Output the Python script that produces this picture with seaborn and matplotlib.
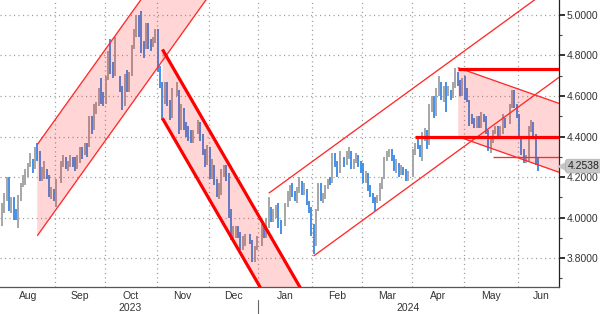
import numpy as np
import pandas as pd
import matplotlib
matplotlib.use("Agg")
import matplotlib.pyplot as plt
import matplotlib.transforms as mtransforms
import seaborn as sns

# ---------------- data (daily yield bars, weekdays; None = market holiday) ----------------
start_date = "2023-08-01"
end_date = "2024-06-13"

close = [
    4.05, 4.08, 4.18, 4.03, 4.09, 4.02, 4.01, 4.08, 4.16, 4.19, 4.21, 4.26, 4.30, 4.25, 4.34, 4.33, 4.19, 4.24, 4.24, 4.21, 4.12, 4.12, 4.09,
    4.18, None, 4.27, 4.30, 4.26, 4.26, 4.29, 4.27, 4.25, 4.29, 4.33, 4.32, 4.36, 4.35, 4.49, 4.43, 4.54, 4.56, 4.61, 4.59, 4.57,
    4.68, 4.80, 4.73, 4.72, 4.78, None, 4.65, 4.56, 4.70, 4.63, 4.71, 4.83, 4.90, 4.99, 4.91, 4.84, 4.83, 4.95, 4.85, 4.84, 4.88, 4.93,
    4.77, 4.67, 4.57, 4.64, 4.57, 4.49, 4.63, None, 4.63, 4.44, 4.54, 4.45, 4.44, 4.42, 4.41, 4.41, None, 4.47, 4.39, 4.33, 4.26, 4.35,
    4.22, 4.26, 4.17, 4.11, 4.13, 4.23, 4.24, 4.20, 4.02, 3.91, 3.91, 3.95, 3.92, 3.85, 3.89, 3.90, None, 3.89, 3.79, 3.85, 3.88,
    None, 3.94, 3.91, 3.99, 4.05, 4.01, 4.02, 4.03, 3.97, 3.94, None, 4.06, 4.10, 4.14, 4.12, 4.10, 4.14, 4.18, 4.12, 4.14, 4.08, 4.03, 3.92,
    3.87, 4.03, 4.16, 4.09, 4.10, 4.15, 4.18, 4.17, 4.31, 4.26, 4.24, 4.30, None, 4.27, 4.32, 4.32, 4.25, 4.28, 4.31, 4.27, 4.25,
    4.18, 4.22, 4.15, 4.11, 4.09, 4.08, 4.10, 4.15, 4.19, 4.29, 4.31, 4.33, 4.30, 4.27, 4.27, 4.22, 4.25, 4.23, 4.19, 4.20, None,
    4.33, 4.36, 4.35, 4.31, 4.40, 4.42, 4.36, 4.55, 4.59, 4.52, 4.63, 4.67, 4.59, 4.64, 4.62, 4.62, 4.60, 4.65, 4.71, 4.67, 4.61, 4.68,
    4.63, 4.58, 4.50, 4.49, 4.46, 4.49, 4.46, 4.50, 4.49, 4.45, 4.35, 4.38, 4.42, 4.44, 4.41, 4.43, 4.48, 4.47, None, 4.54, 4.62, 4.55, 4.50,
    4.40, 4.33, 4.29, 4.29, 4.43, 4.47, 4.40, 4.31, 4.2538,
]
high = [
    4.07, 4.12, 4.20, 4.20, 4.10, 4.10, 4.04, 4.11, 4.17, 4.21, 4.24, 4.27, 4.32, 4.29, 4.35, 4.37, 4.33, 4.25, 4.28, 4.24, 4.21, 4.15, 4.14,
    4.19, None, 4.28, 4.31, 4.30, 4.28, 4.31, 4.30, 4.30, 4.31, 4.35, 4.35, 4.37, 4.37, 4.50, 4.50, 4.56, 4.57, 4.64, 4.69, 4.62,
    4.70, 4.82, 4.88, 4.77, 4.89, None, 4.70, 4.65, 4.71, 4.73, 4.72, 4.85, 4.93, 5.00, 5.00, 5.02, 4.87, 4.96, 4.96, 4.88, 4.89, 4.93,
    4.93, 4.75, 4.67, 4.67, 4.67, 4.58, 4.64, None, 4.67, 4.63, 4.56, 4.54, 4.47, 4.45, 4.43, 4.43, None, 4.48, 4.47, 4.41, 4.34, 4.36,
    4.35, 4.29, 4.26, 4.19, 4.17, 4.24, 4.26, 4.26, 4.22, 4.04, 3.96, 3.96, 3.96, 3.93, 3.91, 3.92, None, 3.92, 3.89, 3.86, 3.91,
    None, 3.97, 3.96, 4.00, 4.10, 4.05, 4.04, 4.06, 4.07, 3.99, None, 4.07, 4.13, 4.16, 4.17, 4.13, 4.15, 4.20, 4.18, 4.17, 4.14, 4.08, 4.05,
    3.97, 4.04, 4.17, 4.17, 4.12, 4.16, 4.19, 4.20, 4.32, 4.32, 4.28, 4.33, None, 4.30, 4.33, 4.35, 4.33, 4.29, 4.32, 4.31, 4.28,
    4.27, 4.23, 4.22, 4.16, 4.12, 4.10, 4.11, 4.17, 4.20, 4.30, 4.33, 4.34, 4.34, 4.31, 4.29, 4.27, 4.26, 4.25, 4.24, 4.23, None,
    4.34, 4.37, 4.39, 4.36, 4.42, 4.44, 4.43, 4.56, 4.60, 4.60, 4.64, 4.70, 4.67, 4.65, 4.67, 4.65, 4.63, 4.67, 4.74, 4.72, 4.68, 4.69,
    4.70, 4.64, 4.58, 4.51, 4.49, 4.50, 4.50, 4.52, 4.51, 4.50, 4.43, 4.39, 4.43, 4.45, 4.45, 4.45, 4.51, 4.49, None, 4.56, 4.63, 4.63, 4.56,
    4.51, 4.40, 4.34, 4.31, 4.45, 4.48, 4.47, 4.41, 4.30,
]
low = [
    3.96, 4.02, 4.08, 4.03, 4.02, 3.99, 3.99, 3.95, 4.08, 4.15, 4.16, 4.20, 4.25, 4.22, 4.24, 4.28, 4.18, 4.18, 4.19, 4.19, 4.10, 4.09, 4.08,
    4.05, None, 4.17, 4.25, 4.24, 4.23, 4.25, 4.25, 4.23, 4.24, 4.27, 4.29, 4.31, 4.30, 4.35, 4.41, 4.43, 4.51, 4.55, 4.56, 4.55,
    4.56, 4.68, 4.71, 4.69, 4.70, None, 4.62, 4.53, 4.55, 4.62, 4.62, 4.70, 4.83, 4.89, 4.89, 4.81, 4.79, 4.83, 4.83, 4.82, 4.84, 4.86,
    4.72, 4.64, 4.48, 4.56, 4.55, 4.48, 4.49, None, 4.60, 4.41, 4.43, 4.43, 4.40, 4.38, 4.37, 4.37, None, 4.41, 4.38, 4.31, 4.25, 4.26,
    4.19, 4.19, 4.16, 4.10, 4.09, 4.11, 4.20, 4.18, 4.00, 3.89, 3.88, 3.90, 3.90, 3.84, 3.84, 3.86, None, 3.87, 3.78, 3.78, 3.84,
    None, 3.86, 3.90, 3.90, 3.95, 3.98, 3.98, 4.00, 3.95, 3.92, None, 3.96, 4.05, 4.08, 4.10, 4.08, 4.07, 4.12, 4.11, 4.11, 4.06, 4.02, 3.91,
    3.82, 3.86, 4.03, 4.08, 4.07, 4.09, 4.14, 4.16, 4.17, 4.25, 4.20, 4.22, None, 4.25, 4.26, 4.29, 4.24, 4.24, 4.27, 4.25, 4.22,
    4.17, 4.17, 4.13, 4.10, 4.07, 4.03, 4.07, 4.08, 4.14, 4.19, 4.28, 4.30, 4.28, 4.23, 4.22, 4.20, 4.21, 4.21, 4.18, 4.18, None,
    4.20, 4.31, 4.34, 4.30, 4.28, 4.38, 4.34, 4.36, 4.52, 4.49, 4.50, 4.60, 4.58, 4.57, 4.52, 4.60, 4.58, 4.59, 4.64, 4.65, 4.60, 4.60,
    4.58, 4.57, 4.45, 4.46, 4.44, 4.44, 4.44, 4.44, 4.47, 4.41, 4.33, 4.32, 4.37, 4.41, 4.39, 4.40, 4.41, 4.44, None, 4.46, 4.54, 4.54, 4.49,
    4.40, 4.31, 4.27, 4.27, 4.28, 4.42, 4.39, 4.26, 4.23,
]

month_names = ["Aug", "Sep", "Oct", "Nov", "Dec", "Jan", "Feb", "Mar", "Apr", "May", "Jun"]
month_starts = ["2023-08-01", "2023-09-01", "2023-10-01", "2023-11-01", "2023-12-01",
                "2024-01-01", "2024-02-01", "2024-03-01", "2024-04-01", "2024-05-01", "2024-06-01"]
year_labels = ["2023", "2024"]

# trend channels: (dates, upper values, lower values)
rise1_dates, rise1_upper, rise1_lower = ["2023-08-22", "2023-12-01"], [4.36, 5.55], [3.91, 5.10]
fall1_dates, fall1_upper, fall1_lower = ["2023-11-03", "2024-01-31"], [4.83, 3.56], [4.49, 3.22]
rise2_up_dates, rise2_upper = ["2024-01-05", "2024-06-28"], [4.12, 5.18]
rise2_lo_dates, rise2_lower = ["2024-02-01", "2024-06-28"], [3.81, 4.71]
fall2_dates, fall2_upper, fall2_lower = ["2024-04-26", "2024-06-28"], [4.74, 4.555], [4.40, 4.215]
level_thick = [(4.735, "2024-04-26"), (4.40, "2024-04-02")]
level_thin = [(4.30, "2024-05-17")]
line_end = "2024-06-28"

# ---------------- helpers ----------------
def pos(d):
    return float(np.busday_count(np.datetime64(start_date), np.datetime64(d)))

dates = pd.bdate_range(start_date, end_date)
assert len(dates) == len(close) == len(high) == len(low)
df = pd.DataFrame({"date": dates,
                   "close": pd.to_numeric(pd.Series(close, dtype="object"), errors="coerce"),
                   "high": pd.to_numeric(pd.Series(high, dtype="object"), errors="coerce"),
                   "low": pd.to_numeric(pd.Series(low, dtype="object"), errors="coerce")})
df["pos"] = np.arange(len(df), dtype=float)
prev = df["close"].ffill().shift(1)
df["dir"] = np.where(df["close"] < prev, "down", "up")
valid = df.dropna(subset=["close"])

# ---------------- figure ----------------
sns.set_theme(style="white")
plt.rcParams["font.family"] = ["Liberation Sans", "DejaVu Sans"]

fig = plt.figure(figsize=(6.0, 3.14), dpi=100)
ax = fig.add_axes([0.0, 27 / 314, 559 / 600, 287 / 314])

x_left, x_right = -0.78, 235.9
ax.set_xlim(x_left, x_right)
ax.set_ylim(3.657, 5.074)

bar_colors = {"up": "#a3a3a3", "down": "#3d8de8"}
for key, grp in valid.groupby("dir"):
    ax.vlines(grp["pos"], grp["low"], grp["high"], color=bar_colors[key], lw=1.35, zorder=2)

fill_kw = dict(color="#ff0000", alpha=0.165, lw=0, zorder=3)
thin_kw = dict(color="#ff2a2a", lw=0.95, zorder=4, solid_capstyle="butt")
thick_kw = dict(color="#ff0000", lw=2.3, zorder=4, solid_capstyle="butt")

# channel 1 (rising, filled)
xs = [pos(d) for d in rise1_dates]
ax.fill_between(xs, rise1_lower, rise1_upper, **fill_kw)
ax.plot(xs, rise1_upper, **thin_kw)
ax.plot(xs, rise1_lower, **thin_kw)

# channel 2 (falling, filled, thick)
xs = [pos(d) for d in fall1_dates]
ax.fill_between(xs, fall1_lower, fall1_upper, **fill_kw)
ax.plot(xs, fall1_upper, **thick_kw)
ax.plot(xs, fall1_lower, **thick_kw)

# channel 3 (rising, lines only)
ax.plot([pos(d) for d in rise2_up_dates], rise2_upper, **thin_kw)
ax.plot([pos(d) for d in rise2_lo_dates], rise2_lower, **thin_kw)

# channel 4 (falling, filled)
xs = [pos(d) for d in fall2_dates]
ax.fill_between(xs, fall2_lower, fall2_upper, **fill_kw)
ax.plot(xs, fall2_upper, **thin_kw)
ax.plot(xs, fall2_lower, **thin_kw)

for lvl, d in level_thick:
    ax.plot([pos(d), pos(line_end)], [lvl, lvl], **thick_kw)
for lvl, d in level_thin:
    ax.plot([pos(d), pos(line_end)], [lvl, lvl], **thin_kw)

# ---------------- axes styling ----------------
boundaries = [pos(d) - 0.5 for d in month_starts[1:]]
centers = []
for i, d in enumerate(month_starts):
    first = pd.Timestamp(d)
    last = first + pd.offsets.MonthEnd(0)
    centers.append((pos(first.strftime("%Y-%m-%d")) + pos((last + pd.Timedelta(days=1)).strftime("%Y-%m-%d")) - 1) / 2)

ax.set_xticks(boundaries)
ax.set_xticklabels([""] * len(boundaries))
ax.set_xticks(centers, minor=True)
ax.set_xticklabels(month_names, minor=True)

ax.set_yticks(np.round(np.arange(3.8, 5.001, 0.2), 1))
ax.set_yticks(np.round(np.arange(3.7, 5.051, 0.1), 1), minor=True)
ax.yaxis.tick_right()
ax.yaxis.set_major_formatter(matplotlib.ticker.FormatStrFormatter("%.4f"))

ax.grid(True, which="major", axis="both", color="#9c9c9c", linestyle=(0, (0.9, 2.7)), linewidth=0.9)
ax.tick_params(axis="y", which="major", direction="out", length=4, width=1.3, color="#222222",
               labelsize=7.5, labelcolor="#333333", pad=1.5, right=True, left=False)
ax.tick_params(axis="y", which="minor", direction="out", length=2.5, width=0.8, color="#444444",
               right=True, left=False)
ax.tick_params(axis="x", which="major", direction="out", length=3, width=0.8, color="#555555")
ax.tick_params(axis="x", which="minor", length=0, labelsize=7.5, labelcolor="#333333", pad=3)

for side in ["left", "top"]:
    ax.spines[side].set_visible(False)
ax.spines["bottom"].set_color("#555555")
ax.spines["bottom"].set_linewidth(0.9)
ax.spines["right"].set_color("#222222")
ax.spines["right"].set_linewidth(0.9)

blend = mtransforms.blended_transform_factory(ax.transData, ax.transAxes)
year_split = pos("2024-01-01") - 0.5
ax.text((x_left + year_split) / 2 + 0.5, -0.073, year_labels[0], transform=blend, ha="center", va="center",
        fontsize=7.5, color="#333333")
ax.text((year_split + x_right) / 2, -0.073, year_labels[1], transform=blend, ha="center", va="center",
        fontsize=7.5, color="#333333")
ax.plot([year_split, year_split], [-0.045, -0.11], transform=blend, clip_on=False, color="#666666", lw=0.8)

# last-value tag
last_val = valid["close"].iloc[-1]
blend_y = mtransforms.blended_transform_factory(ax.transAxes, ax.transData)
ax.plot([1.006], [last_val], marker="<", markersize=6, color="#c6c6c6", transform=blend_y,
        clip_on=False, zorder=6)
ax.annotate(f"{last_val:.4f}", xy=(1.0, last_val), xycoords=blend_y, xytext=(6, 0),
            textcoords="offset points", ha="left", va="center", fontsize=7.5, color="#222222",
            bbox=dict(boxstyle="round,pad=0.18,rounding_size=0.25", fc="#c6c6c6", ec="#b0b0b0", lw=0.5),
            zorder=7, annotation_clip=False)

fig.savefig("out.png", dpi=100, facecolor="white")
